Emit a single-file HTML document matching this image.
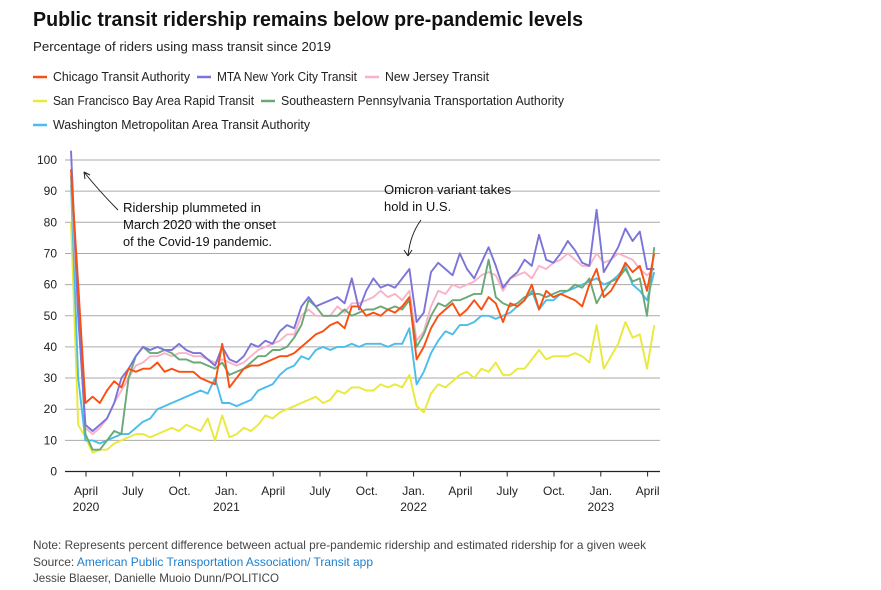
<!DOCTYPE html>
<html><head><meta charset="utf-8"><style>
body{margin:0;background:#fff;}
svg{display:block;font-family:"Liberation Sans",sans-serif;}
</style></head><body>
<svg id="chart" width="881" height="590" viewBox="0 0 881 590" xmlns="http://www.w3.org/2000/svg">
<text x="33" y="26" font-size="20" font-weight="bold" fill="#111" textLength="550" lengthAdjust="spacingAndGlyphs">Public transit ridership remains below pre-pandemic levels</text>
<text x="33" y="51" font-size="13" fill="#222" textLength="298" lengthAdjust="spacingAndGlyphs">Percentage of riders using mass transit since 2019</text>
<g id="legend" font-size="12.5" fill="#222"></g>
<g id="grid"></g>
<g id="yaxis" font-size="12" fill="#222"></g>
<g id="xaxis" font-size="12" fill="#222"></g>
<g id="series"></g>
<g>
<path d="M118,210 Q100,192 84,172" fill="none" stroke="#222" stroke-width="1"/>
<path d="M84,172 L85,179 M84,172 L90,175" fill="none" stroke="#222" stroke-width="1"/>
<text x="123" y="212" font-size="13" fill="#111" textLength="138" lengthAdjust="spacingAndGlyphs">Ridership plummeted in</text>
<text x="123" y="229" font-size="13" fill="#111" textLength="153" lengthAdjust="spacingAndGlyphs">March 2020 with the onset</text>
<text x="123" y="246" font-size="13" fill="#111" textLength="149" lengthAdjust="spacingAndGlyphs">of the Covid-19 pandemic.</text>
</g>
<g>
<path d="M421,220 Q410,235 408,256" fill="none" stroke="#222" stroke-width="1"/>
<path d="M408,256 L404,250 M408,256 L412,250" fill="none" stroke="#222" stroke-width="1"/>
<text x="384" y="194" font-size="13" fill="#111" textLength="127" lengthAdjust="spacingAndGlyphs">Omicron variant takes</text>
<text x="384" y="211" font-size="13" fill="#111">hold in U.S.</text>
</g>
<text x="33" y="549" font-size="12" fill="#444" textLength="613" lengthAdjust="spacingAndGlyphs">Note: Represents percent difference between actual pre-pandemic ridership and estimated ridership for a given week</text>
<text x="33" y="566" font-size="12" fill="#444" textLength="340" lengthAdjust="spacingAndGlyphs">Source: <tspan fill="#1a7fd0">American Public Transportation Association/ Transit app</tspan></text>
<text x="33" y="582" font-size="12" fill="#444" textLength="246" lengthAdjust="spacingAndGlyphs">Jessie Blaeser, Danielle Muoio Dunn/POLITICO</text>
</svg>
<script>
const yTicks = [0,10,20,30,40,50,60,70,80,90,100];
const xTickLabels = ["April","July","Oct.","Jan.","April","July","Oct.","Jan.","April","July","Oct.","Jan.","April"];
const xTickYears = ["2020","","","2021","","","","2022","","","","2023",""];
const xTickQuarters = [0,1,2,3,4,5,6,7,8,9,10,11,12];
const seriesNames = ["Chicago Transit Authority","MTA New York City Transit","New Jersey Transit","San Francisco Bay Area Rapid Transit","Southeastern Pennsylvania Transportation Authority","Washington Metropolitan Area Transit Authority"];
const chicago = [97,60,22,24,22,26,29,27,33,32,33,33,35,32,33,32,32,32,30,29,28,41,27,30,33,34,34,35,36,37,37,38,40,42,44,45,47,48,46,53,53,50,51,50,52,51,53,56,36,40,46,50,52,54,50,52,55,52,56,54,48,54,53,55,60,52,58,56,57,56,55,53,60,65,56,58,62,67,64,66,58,70];
const mta = [103,50,15,13,15,17,22,30,33,37,40,39,40,39,39,41,39,38,38,36,34,40,36,35,37,41,40,42,41,45,47,46,53,56,53,54,55,56,54,62,52,58,62,59,60,59,62,65,48,51,64,67,65,63,70,65,62,67,72,66,59,62,64,68,66,76,68,67,70,74,71,67,66,84,64,68,72,78,74,77,65,65];
const njt = [94,50,14,12,14,17,22,26,30,34,35,37,37,38,37,38,38,37,37,36,35,36,35,34,35,37,39,40,41,42,44,44,50,52,50,50,50,53,51,54,54,55,56,58,56,57,55,58,42,45,53,58,57,60,59,60,61,63,64,63,58,62,63,64,62,66,65,67,68,70,68,66,66,70,67,68,70,69,68,65,63,65];
const bart = [80,15,11,6,7,7,9,10,11,12,12,11,12,13,14,13,15,14,13,17,10,18,11,12,14,13,15,18,17,19,20,21,22,23,24,22,23,26,25,27,27,26,26,28,27,28,27,31,21,19,25,28,27,29,31,32,30,33,32,35,31,31,33,33,36,39,36,37,37,37,38,37,35,47,33,37,41,48,43,44,33,47];
const septa = [95,55,12,7,7,10,13,12,30,37,40,38,38,39,38,36,36,35,35,34,33,35,31,32,33,35,37,37,39,39,40,43,47,55,53,50,50,50,52,50,51,52,52,53,52,53,52,55,40,44,50,54,53,55,55,56,57,57,68,56,54,53,54,56,57,57,56,57,58,58,60,59,62,54,58,61,62,65,61,62,50,72];
const wmata = [92,30,10,10,9,10,11,12,12,14,16,17,20,21,22,23,24,25,26,25,30,22,22,21,22,23,26,27,28,31,33,34,37,36,39,40,39,40,40,41,40,41,41,41,40,41,41,46,28,32,38,42,45,44,47,47,48,50,50,49,50,51,53,55,58,52,55,55,57,58,59,60,61,62,60,61,63,66,60,58,55,64];
const seriesData = [chicago, mta, njt, bart, septa, wmata];
const colors = ["#fa4f10","#7b74d9","#f9b3c9","#e9e93c","#6aa977","#4bbde9"];
const drawOrder = [3,5,2,4,1,0];
const WEEK_STEP = 2;

const NS = "http://www.w3.org/2000/svg";
const X0 = 65, X1 = 660, Y0 = 471.5, YPX = 3.115;
const Q_APR2020 = 86, Q_PX = 46.8, START_X = 71, WEEK_PX = 3.6;
function yScale(v){ return Y0 - v * YPX; }
function xQuarter(q){ return Q_APR2020 + q * Q_PX; }
function xWeek(w){ return START_X + w * WEEK_PX; }
function mk(tag, attrs, parent){ const e = document.createElementNS(NS, tag); for (const k in attrs) e.setAttribute(k, attrs[k]); parent.appendChild(e); return e; }

const grid = document.getElementById('grid');
const yaxis = document.getElementById('yaxis');
yTicks.forEach(v => {
  if (v > 0) {
    const l = mk('line', {x1:X0, x2:X1, y1:yScale(v), y2:yScale(v), stroke:'#aaa', 'stroke-width':1}, grid);
    
    
  }
  const t = mk('text', {x:57, y:yScale(v)+4, 'text-anchor':'end'}, yaxis);
  t.textContent = v;
  
  
});
const xaxis = document.getElementById('xaxis');
mk('line', {x1:X0, x2:X1, y1:Y0, y2:Y0, stroke:'#222', 'stroke-width':1.2}, xaxis);
xTickQuarters.forEach((q, i) => {
  const x = xQuarter(q);
  mk('line', {x1:x, x2:x, y1:Y0, y2:Y0+5, stroke:'#222', 'stroke-width':1}, xaxis);
  const t = mk('text', {x:x, y:495, 'text-anchor':'middle'}, xaxis);
  t.textContent = xTickLabels[i];
  
  
  if (xTickYears[i]) {
    const y = mk('text', {x:x, y:511, 'text-anchor':'middle'}, xaxis);
    y.textContent = xTickYears[i];
    
    
  }
});

const sg = document.getElementById('series');
drawOrder.forEach(si => {
  const d = seriesData[si].map((v, i) => (i ? 'L' : 'M') + xWeek(i*WEEK_STEP).toFixed(1) + ',' + yScale(v).toFixed(1)).join(' ');
  const p = mk('path', {d:d, fill:'none', stroke:colors[si], 'stroke-width':1.9, 'stroke-linejoin':'round'}, sg);
  
  
});

const legendPos = [[33,81],[197,81],[365,81],[33,105],[261,105],[33,129]];
const legendW = [137,140,104,201,283,257];
const lg = document.getElementById('legend');
seriesNames.forEach((n, i) => {
  const [x, y] = legendPos[i];
  const g = mk('g', {}, lg);
  
  
  mk('line', {x1:x, x2:x+14, y1:y-4, y2:y-4, stroke:colors[i], 'stroke-width':2.5}, g);
  const t = mk('text', {x:x+20, y:y, textLength:legendW[i], lengthAdjust:'spacingAndGlyphs'}, g);
  t.textContent = n;
});
</script>
</body></html>
